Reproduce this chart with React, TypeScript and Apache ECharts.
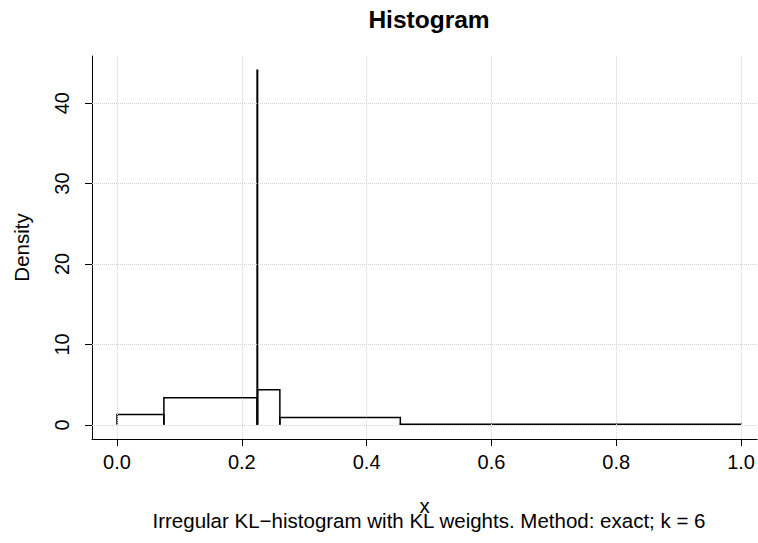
import React, { useEffect, useRef } from "react";
import * as echarts from "echarts";

const breaks = [0, 0.0752, 0.2245, 0.2253, 0.261, 0.454, 1.0];
const densities = [1.28, 3.35, 44.1, 4.35, 0.9, 0.07];
const xTicks = [0, 0.2, 0.4, 0.6, 0.8, 1.0];
const yTicks = [0, 10, 20, 30, 40];
const titleText = "Histogram";
const xName = "x";
const yName = "Density";
const subText = "Irregular KL\u2212histogram with KL weights. Method: exact; k = 6";

const FONT = '"Liberation Sans", Arial, Helvetica, sans-serif';

export default function App() {
  const ref = useRef<HTMLDivElement>(null);
  useEffect(() => {
    if (!ref.current) return;
    const chart = echarts.init(ref.current, null, { renderer: "svg" });
    const bins = densities.map((d, i) => [breaks[i], breaks[i + 1], d]);
    chart.setOption({
      animation: false,
      backgroundColor: "#ffffff",
      grid: { left: 92, right: 0, top: 56, bottom: 104, containLabel: false },
      graphic: [
        {
          type: "text",
          x: 429,
          y: 19,
          style: {
            text: titleText,
            fontFamily: FONT,
            fontSize: 24.5,
            fontWeight: "bold",
            fill: "#000",
            align: "center",
            verticalAlign: "middle",
          },
        },
        {
          type: "text",
          x: 429,
          y: 520,
          style: {
            text: subText,
            fontFamily: FONT,
            fontSize: 20.5,
            fill: "#000",
            align: "center",
            verticalAlign: "middle",
          },
        },
      ],
      xAxis: {
        type: "value",
        min: -0.04,
        max: 1.0256,
        name: xName,
        nameLocation: "middle",
        nameGap: 56,
        nameTextStyle: { fontFamily: FONT, fontSize: 20.5, color: "#000" },
        axisLine: { show: true, onZero: false, lineStyle: { color: "#000", width: 1 } },
        axisTick: { show: true, length: 7, customValues: xTicks, lineStyle: { color: "#000" } },
        axisLabel: {
          customValues: xTicks,
          formatter: (v: number) => v.toFixed(1),
          fontFamily: FONT,
          fontSize: 20,
          color: "#000",
          margin: 13,
        },
        splitLine: { show: false },
      },
      yAxis: {
        type: "value",
        min: -1.764,
        max: 45.86,
        name: yName,
        nameLocation: "middle",
        nameGap: 60,
        nameTextStyle: { fontFamily: FONT, fontSize: 20.5, color: "#000" },
        axisLine: { show: true, onZero: false, lineStyle: { color: "#000", width: 1 } },
        axisTick: { show: true, length: 7, customValues: yTicks, lineStyle: { color: "#000" } },
        axisLabel: {
          customValues: yTicks,
          rotate: 90,
          formatter: (v: number) => String(v),
          fontFamily: FONT,
          fontSize: 20,
          color: "#000",
          margin: 20,
        },
        splitLine: { show: false },
      },
      series: [
        {
          type: "custom",
          coordinateSystem: "cartesian2d",
          encode: { x: [0, 1], y: 2 },
          data: bins,
          renderItem: (params: any, api: any) => {
            const x0 = api.value(0);
            const x1 = api.value(1);
            const d = api.value(2);
            const p0 = api.coord([x0, 0]);
            const p1 = api.coord([x0, d]);
            const p2 = api.coord([x1, d]);
            const p3 = api.coord([x1, 0]);
            return {
              type: "polyline",
              shape: { points: [p0, p1, p2, p3] },
              style: { stroke: "#000", lineWidth: 1.5, fill: null },
            };
          },
          markLine: {
            silent: true,
            symbol: ["none", "none"],
            label: { show: false },
            lineStyle: { color: "#d3d3d3", type: "dotted", width: 1 },
            data: [
              ...xTicks.map((v) => ({ xAxis: v })),
              ...yTicks.map((v) => ({ yAxis: v })),
            ],
          },
        },
      ],
    });
    return () => chart.dispose();
  }, []);
  return <div ref={ref} style={{ width: 758, height: 543, position: "fixed", left: 0, top: 0 }} />;
}
